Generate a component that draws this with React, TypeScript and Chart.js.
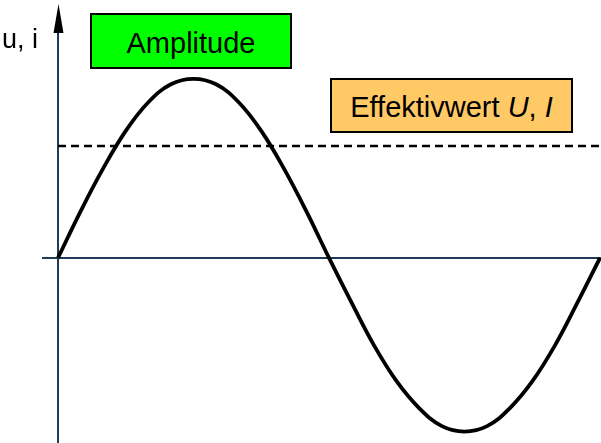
import React, { useEffect, useRef } from "react";
import { Chart, registerables } from "chart.js";

Chart.register(...registerables);

// phase angle in degrees
const phaseDegrees = [0, 15, 30, 45, 60, 75, 90, 105, 120, 135, 150, 165, 180, 195, 210, 225, 240, 255, 270, 285, 300, 315, 330, 345, 360];
// instantaneous value u, i (normalised to the positive amplitude)
const curveValues = [0, 0.26, 0.5, 0.71, 0.87, 0.97, 1.0, 0.97, 0.87, 0.71, 0.5, 0.26, 0, -0.25, -0.49, -0.69, -0.84, -0.94, -0.97, -0.94, -0.84, -0.69, -0.49, -0.25, 0];
// effective value (RMS) line
const effectiveValue = 0.626;
const axisLabel = "u, i";
const amplitudeLabel = "Amplitude";

const axesPlugin = {
  id: "customAxes",
  beforeDatasetsDraw(chart: any) {
    const { ctx, scales, chartArea } = chart;
    const x0 = scales.x.getPixelForValue(0);
    const y0 = scales.y.getPixelForValue(0);
    ctx.save();
    ctx.strokeStyle = "#1f3b57";
    ctx.lineWidth = 2;
    // horizontal axis
    ctx.beginPath();
    ctx.moveTo(x0 - 16, y0);
    ctx.lineTo(chart.width, y0);
    ctx.stroke();
    // vertical axis
    ctx.beginPath();
    ctx.moveTo(x0, chartArea.bottom);
    ctx.lineTo(x0, 30);
    ctx.stroke();
    // arrow head
    ctx.fillStyle = "#000000";
    ctx.beginPath();
    ctx.moveTo(x0 + 0.5, 4);
    ctx.lineTo(x0 + 5.5, 33);
    ctx.lineTo(x0 - 4.5, 33);
    ctx.closePath();
    ctx.fill();
    ctx.restore();
  },
};

export default function App() {
  const canvasRef = useRef<HTMLCanvasElement | null>(null);

  useEffect(() => {
    if (!canvasRef.current) return;
    const curve = phaseDegrees.map((d, i) => ({ x: d, y: curveValues[i] }));
    const rms = [
      { x: 0, y: effectiveValue },
      { x: 361, y: effectiveValue },
    ];
    const chart = new Chart(canvasRef.current, {
      type: "line",
      data: {
        datasets: [
          {
            data: rms,
            borderColor: "#000000",
            borderWidth: 2.5,
            borderDash: [8, 5],
            pointRadius: 0,
            tension: 0,
            clip: 10,
          } as any,
          {
            data: curve,
            borderColor: "#000000",
            borderWidth: 3.8,
            pointRadius: 0,
            tension: 0.4,
            clip: 10,
          } as any,
        ],
      },
      options: {
        animation: false,
        responsive: false,
        devicePixelRatio: 1,
        layout: { padding: { left: 58, right: 1, top: 0, bottom: 0 } },
        plugins: { legend: { display: false }, tooltip: { enabled: false } },
        scales: {
          x: { type: "linear", min: 0, max: 360, display: false },
          y: { type: "linear", min: -1.034, max: 1.441, display: false },
        },
      },
      plugins: [axesPlugin],
    });
    return () => chart.destroy();
  }, []);

  const font = '"Liberation Sans", Arial, sans-serif';

  return (
    <div style={{ position: "fixed", left: 0, top: 0, width: 601, height: 443, background: "#ffffff", fontFamily: font }}>
      <canvas ref={canvasRef} width={601} height={443} style={{ position: "absolute", left: 0, top: 0 }} />
      <div style={{ position: "absolute", left: 2, top: 24, fontSize: 27, lineHeight: "30px", color: "#000" }}>{axisLabel}</div>
      <div
        style={{
          position: "absolute", left: 90, top: 13, width: 198, height: 52, background: "#00ff00",
          border: "2px solid #000", display: "flex", alignItems: "center", justifyContent: "center",
          fontSize: 29, color: "#000",
        }}
      >
        <span style={{ position: "relative", top: 2 }}>{amplitudeLabel}</span>
      </div>
      <div
        style={{
          position: "absolute", left: 330, top: 78, width: 239, height: 51, background: "#ffc966",
          border: "2px solid #000", display: "flex", alignItems: "center", justifyContent: "center",
          fontSize: 29, color: "#000",
        }}
      >
        <span style={{ position: "relative", top: 2 }}>
          Effektivwert <i>U</i>, <i>I</i>
        </span>
      </div>
    </div>
  );
}
